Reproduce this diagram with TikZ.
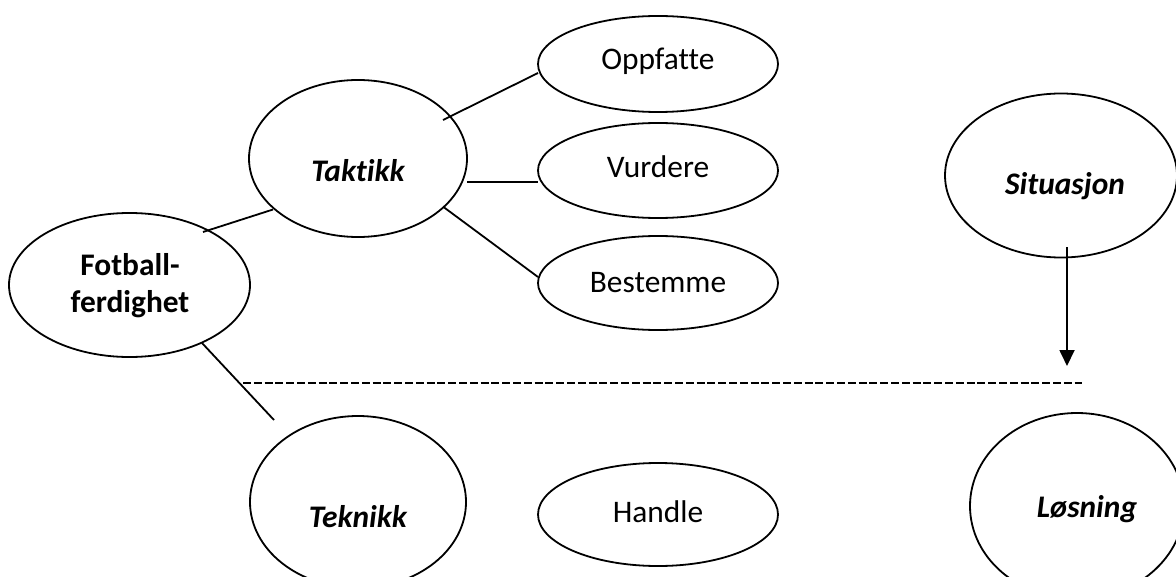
\documentclass[tikz,border=0pt]{standalone}
\usepackage{fontspec}
\setmainfont{Carlito}[Ligatures=NoCommon]
\usetikzlibrary{shapes.geometric,arrows.meta}
\begin{document}
\begin{tikzpicture}[x=0.5pt,y=-0.5pt,
  ell/.style={draw,ellipse,line width=0.9pt,inner sep=0pt},
  txt/.style={anchor=base,inner sep=0pt,font=\fontsize{15.7}{18.5}\selectfont},
  emph/.style={txt,font=\fontsize{15.7}{18.5}\selectfont\bfseries\itshape},
  bold/.style={txt,font=\fontsize{15.7}{18.5}\selectfont\bfseries,align=center},
  con/.style={line width=0.9pt}]
\useasboundingbox (0,0) rectangle (1176,577);
% ellipses
\node[ell,minimum width=120.5pt,minimum height=72pt] (fot) at (129.5,285) {};
\node[ell,minimum width=109pt,minimum height=78.5pt] (tak) at (358,158.5) {};
\node[ell,minimum width=120pt,minimum height=48pt] (opp) at (658,64) {};
\node[ell,minimum width=120pt,minimum height=47.5pt] (vur) at (658,170.5) {};
\node[ell,minimum width=120pt,minimum height=47pt] (bes) at (658,283) {};
\node[ell,minimum width=120pt,minimum height=51.5pt] (han) at (658,514.5) {};
\node[ell,minimum width=108pt,minimum height=86pt] (tek) at (358,502) {};
\node[ell,minimum width=116pt,minimum height=82pt] (sit) at (1061,175.5) {};
\node[ell,minimum width=107pt,minimum height=93pt] (los) at (1077,506) {};
% texts
\node[bold] (fotT) at (130,312) {Fotball-\\ferdighet};
\node[emph] (takT) at (358,182) {Taktikk};
\node[txt] (oppT) at (658,70) {Oppfatte};
\node[txt] (vurT) at (658,177) {Vurdere};
\node[txt] (besT) at (658,292) {Bestemme};
\node[txt] (hanT) at (658,522) {Handle};
\node[emph] (tekT) at (358,527) {Teknikk};
\node[emph] (sitT) at (1065,195) {Situasjon};
\node[emph] (losT) at (1087,517) {Løsning};
% connector end points
\coordinate (c1) at (203,232);
\coordinate (c2) at (273,209.5);
\coordinate (c3) at (202,343);
\coordinate (c4) at (274,420);
\coordinate (c5) at (443,120);
\coordinate (c6) at (538,73);
\coordinate (c7) at (467,182);
\coordinate (c8) at (538,182);
\coordinate (c9) at (443.5,207);
\coordinate (c10) at (538,277);
\coordinate (d1) at (243,383);
\coordinate (d2) at (1082,383);
\coordinate (a1) at (1067,247);
\coordinate (a2) at (1067,366);
% connectors
\draw[con] (c1) -- (c2);
\draw[con] (c3) -- (c4);
\draw[con] (c5) -- (c6);
\draw[con] (c7) -- (c8);
\draw[con] (c9) -- (c10);
\draw[con,dash pattern=on 4pt off 1.4pt] (d1) -- (d2);
\draw[con,-{Triangle[width=7.5pt,length=8pt]}] (a1) -- (a2);
\end{tikzpicture}
\end{document}
